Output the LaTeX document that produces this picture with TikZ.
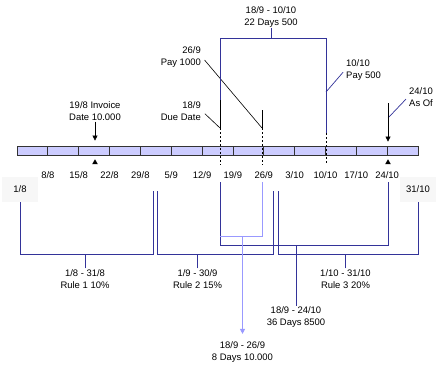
\documentclass[tikz,border=0pt]{standalone}
\usepackage{fontspec}
\setmainfont{Liberation Sans}
\usetikzlibrary{positioning,arrows.meta,shapes.geometric}
\definecolor{rulenavy}{RGB}{51,51,153}
\definecolor{paylight}{RGB}{153,153,255}
\definecolor{cellfill}{RGB}{204,204,255}
\definecolor{cellline}{RGB}{51,51,51}
\definecolor{endgray}{RGB}{247,247,247}

\begin{document}
\begin{tikzpicture}[x=1bp, y=-1bp,
            font=\fontsize{9.5}{12}\selectfont,
            note/.style={align=center, inner sep=1bp},
            datelabel/.style={inner sep=0bp},
            endlabel/.style={fill=endgray, minimum width=36bp, minimum height=25bp, inner sep=0bp},
            timebar/.style={draw=cellline, fill=cellfill, line width=0.8bp, minimum width=401bp, minimum height=9bp, inner sep=0bp},
            navyline/.style={draw=rulenavy, line width=0.9bp},
            navyleader/.style={draw=rulenavy, line width=0.7bp},
            lightline/.style={draw=paylight, line width=0.9bp},
            markline/.style={draw=black, line width=0.6bp},
            dashmark/.style={draw=black, line width=0.6bp, dash pattern=on 2bp off 2bp},
            uptri/.style={regular polygon, regular polygon sides=3, fill=black, inner sep=0bp, minimum size=6.5bp},
            downarrow/.style={-{Triangle[width=5bp,length=5bp]}},
        ]
        \useasboundingbox (0,0) rectangle (442,373);

        % time line
        \node[timebar] (bar) at (217.5,150.5) {};
        \foreach \i in {1,...,12}
            \draw[cellline, line width=0.8bp] (17+\i*30.846,146) -- (17+\i*30.846,155);
        \foreach \d [count=\i] in {8/8,15/8,22/8,29/8,5/9,12/9,19/9,26/9,3/10,10/10,17/10,24/10}
            \node[datelabel] (d\i) at (17+\i*30.846,175) {\d};
        \node[endlabel] (first) at (20,189.5) {1/8};
        \node[endlabel] (last) at (418,189.5) {31/10};

        % invoice
        \node[note] (invoice) at (95,111) {19/8 Invoice\\Date 10.000};
        \draw[markline, downarrow, shorten >=5bp] (invoice.south) -- (invoice.south |- bar.north);
        \node[uptri] (invoice tri) at (95,162.5) {};

        % due date
        \node[note, align=right, anchor=east] (due) at (202,111) {18/9\\Due Date};
        \coordinate (due top) at (220,100);
        \coordinate (due foot) at (220,128);
        \coordinate (due end) at (220,165);
        \draw[markline, shorten <=4bp] (due.east) -- (due foot);
        \draw[markline] (due top) -- (due foot);
        \draw[dashmark] (due foot) -- (due end);

        % pay 1000
        \node[note, align=right, anchor=east] (pay1000) at (202,57) {26/9\\Pay 1000};
        \coordinate (pay1000 top) at (262,110);
        \coordinate (pay1000 foot) at (262,128);
        \coordinate (pay1000 end) at (262,165);
        \draw[markline, shorten <=4bp] (pay1000.east) -- (pay1000 foot);
        \draw[markline] (pay1000 top) -- (pay1000 foot);
        \draw[dashmark] (pay1000 foot) -- (pay1000 end);

        % pay 500 and 22 days
        \node[note, align=left, anchor=west] (pay500) at (345,70) {10/10\\Pay 500};
        \node[note] (span22) at (271,16.7) {18/9 - 10/10\\22 Days 500};
        \coordinate (box nw) at (220,38);
        \coordinate (box ne) at (326,38);
        \coordinate (pay500 bend) at (326,92);
        \coordinate (pay500 foot) at (326,133);
        \coordinate (pay500 end) at (326,165);
        \draw[navyline] (due top) -- (box nw) -- (box ne) -- (pay500 foot);
        \draw[navyline] (span22.south) -- (span22.south |- box nw);
        \draw[navyleader, shorten <=3bp] (pay500.west) -- (pay500 bend);
        \draw[dashmark] (pay500 foot) -- (pay500 end);

        % as of
        \node[note, align=left, anchor=west] (asof) at (408,97) {24/10\\As Of};
        \coordinate (asof top) at (388,103);
        \coordinate (asof bend) at (388,118);
        \draw[navyleader, shorten <=3bp] (asof.west) -- (asof bend);
        \draw[markline, downarrow, shorten >=4bp] (asof top) -- (asof top |- bar.north);
        \node[uptri] (asof tri) at (388,162.5) {};

        % rules
        \node[note] (rule1) at (85,279) {1/8 - 31/8\\Rule 1 10\%};
        \node[note] (rule2) at (197.5,279) {1/9 - 30/9\\Rule 2 15\%};
        \node[note] (rule3) at (345.5,279) {1/10 - 31/10\\Rule 3 20\%};
        \coordinate (rule base) at (0,254);
        \coordinate (rule1 r) at (153,191);
        \coordinate (rule2 l) at (157.3,191);
        \coordinate (rule2 r) at (273.3,191);
        \coordinate (rule3 l) at (278.3,191);
        \draw[navyline] (first.south) |- (rule1 r |- rule base) -- (rule1 r);
        \draw[navyline] (rule2 l) |- (rule2 r |- rule base) -- (rule2 r);
        \draw[navyline] (rule3 l) |- (last.south |- rule base) -- (last.south);
        \draw[navyline] (rule1.north) -- (rule1.north |- rule base);
        \draw[navyline] (rule2.north) -- (rule2.north |- rule base);
        \draw[navyline] (rule3.north) -- (rule3.north |- rule base);

        % 36 days
        \node[note] (span36) at (296,317.5) {18/9 - 24/10\\36 Days 8500};
        \coordinate (span36 l) at (220,182);
        \coordinate (span36 r) at (388,182);
        \coordinate (span36 base) at (0,245);
        \draw[navyline] (span36 l) |- (span36 r |- span36 base) -- (span36 r);
        \draw[navyline] (span36.north) -- (span36.north |- span36 base);

        % 8 days
        \node[note] (span8) at (242.5,352.5) {18/9 - 26/9\\8 Days 10.000};
        \coordinate (span8 r) at (262.7,182);
        \coordinate (span8 base) at (0,236);
        \draw[lightline] (span36 l |- span8 base) -- (span8 r |- span8 base) -- (span8 r);
        \draw[lightline, downarrow, shorten >=7bp] (span8.north |- span8 base) -- (span8.north);
    \end{tikzpicture}
\end{document}
